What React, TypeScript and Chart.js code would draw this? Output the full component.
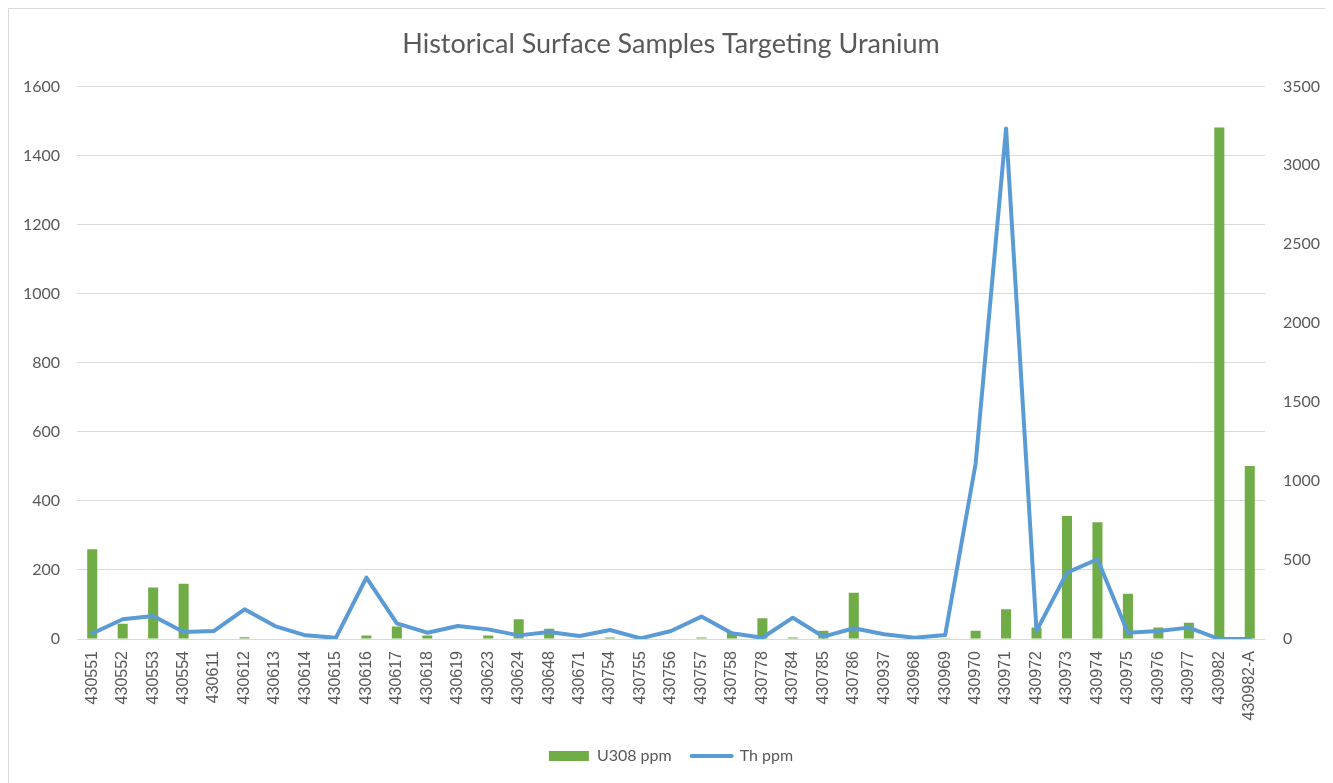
import React, { useEffect, useRef } from "react";
import { Chart, registerables } from "chart.js";

Chart.register(...registerables);

const categories = [
  "430551", "430552", "430553", "430554", "430611", "430612", "430613", "430614",
  "430615", "430616", "430617", "430618", "430619", "430623", "430624", "430648",
  "430671", "430754", "430755", "430756", "430757", "430758", "430778", "430784",
  "430785", "430786", "430937", "430968", "430969", "430970", "430971", "430972",
  "430973", "430974", "430975", "430976", "430977", "430982", "430982-A",
];

const u308Values = [
  260, 44, 149, 160, 0, 5, 0, 0, 0, 10, 36, 10, 0, 10, 57, 30, 0, 4, 0, 0,
  4, 18, 60, 4, 24, 134, 0, 0, 2, 24, 86, 33, 356, 338, 131, 33, 47, 1481, 501,
];

const thValues = [
  35, 125, 146, 44, 51, 188, 82, 23, 8, 389, 99, 40, 82, 61, 23, 44, 19, 57, 4, 51,
  142, 36, 8, 135, 15, 68, 30, 8, 25, 1110, 3234, 51, 420, 505, 40, 51, 72, 0, 0,
];

const leftTicks = { min: 0, max: 1600, step: 200 };
const rightTicks = { min: 0, max: 3500, step: 500 };

const TITLE = "Historical Surface Samples Targeting Uranium";
const GREEN = "#70AD47";
const BLUE = "#5B9BD5";
const TEXT = "#595959";
const GRID = "#D9D9D9";

export default function App() {
  const ref = useRef<HTMLCanvasElement | null>(null);

  useEffect(() => {
    if (!ref.current) return;
    const chart = new Chart(ref.current, {
      type: "bar",
      data: {
        labels: categories,
        datasets: [
          {
            type: "bar",
            label: "U308 ppm",
            data: u308Values,
            backgroundColor: GREEN,
            borderWidth: 0,
            barPercentage: 0.33,
            categoryPercentage: 1,
            yAxisID: "y",
            order: 2,
          },
          {
            type: "line",
            label: "Th ppm",
            data: thValues,
            borderColor: BLUE,
            backgroundColor: BLUE,
            borderWidth: 4,
            pointRadius: 0,
            tension: 0,
            borderJoinStyle: "round",
            borderCapStyle: "round",
            yAxisID: "y1",
            order: 1,
          },
        ],
      },
      options: {
        responsive: false,
        animation: false,
        layout: { padding: { left: 0, right: 0, top: 0, bottom: 9 } },
        plugins: {
          tooltip: { enabled: false },
          title: {
            display: true,
            text: TITLE,
            color: TEXT,
            font: { family: "Lato", size: 27, weight: "normal" },
            padding: { top: 19, bottom: 26 },
          },
          legend: {
            position: "bottom",
            labels: {
              color: TEXT,
              font: { family: "Lato", size: 16 },
              usePointStyle: true,
              pointStyleWidth: 40,
              boxHeight: 10,
              padding: 20,
              sort: (a: any, b: any) => a.datasetIndex - b.datasetIndex,
              generateLabels: (c: any) => {
                const items = Chart.defaults.plugins.legend.labels.generateLabels(c);
                return items.map((it: any) =>
                  it.datasetIndex === 0
                    ? { ...it, pointStyle: "rect", fillStyle: GREEN, lineWidth: 0, strokeStyle: GREEN }
                    : { ...it, pointStyle: "line", strokeStyle: BLUE, fillStyle: BLUE, lineWidth: 4, lineCap: "round" }
                );
              },
            },
          },
        },
        scales: {
          x: {
            grid: { display: false, drawTicks: false },
            border: { display: false },
            ticks: {
              color: TEXT,
              font: { family: "Liberation Sans", size: 16 },
              minRotation: 90,
              maxRotation: 90,
              autoSkip: false,
              padding: 12,
            },
            afterFit: (s: any) => {
              s.height = 89;
            },
          },
          y: {
            position: "left",
            min: leftTicks.min,
            max: leftTicks.max,
            ticks: {
              stepSize: leftTicks.step,
              color: TEXT,
              font: { family: "Lato", size: 16 },
              padding: 17,
              callback: (v: any) => String(v),
            },
            grid: { color: GRID, lineWidth: 1, drawTicks: false },
            border: { display: false },
            afterFit: (s: any) => {
              s.width = 68;
            },
          },
          y1: {
            position: "right",
            min: rightTicks.min,
            max: rightTicks.max,
            ticks: {
              stepSize: rightTicks.step,
              color: TEXT,
              font: { family: "Lato", size: 16 },
              padding: 18,
              callback: (v: any) => String(v),
            },
            grid: { display: false, drawTicks: false },
            border: { display: false },
            afterFit: (s: any) => {
              s.width = 68;
            },
          },
        },
      },
    });
    return () => chart.destroy();
  }, []);

  return (
    <div
      style={{
        width: 1325,
        height: 775,
        boxSizing: "border-box",
        borderLeft: "1px solid #D9D9D9",
        borderTop: "1px solid #D9D9D9",
        background: "#FFFFFF",
      }}
    >
      <canvas ref={ref} width={1324} height={774} style={{ display: "block" }} />
    </div>
  );
}
